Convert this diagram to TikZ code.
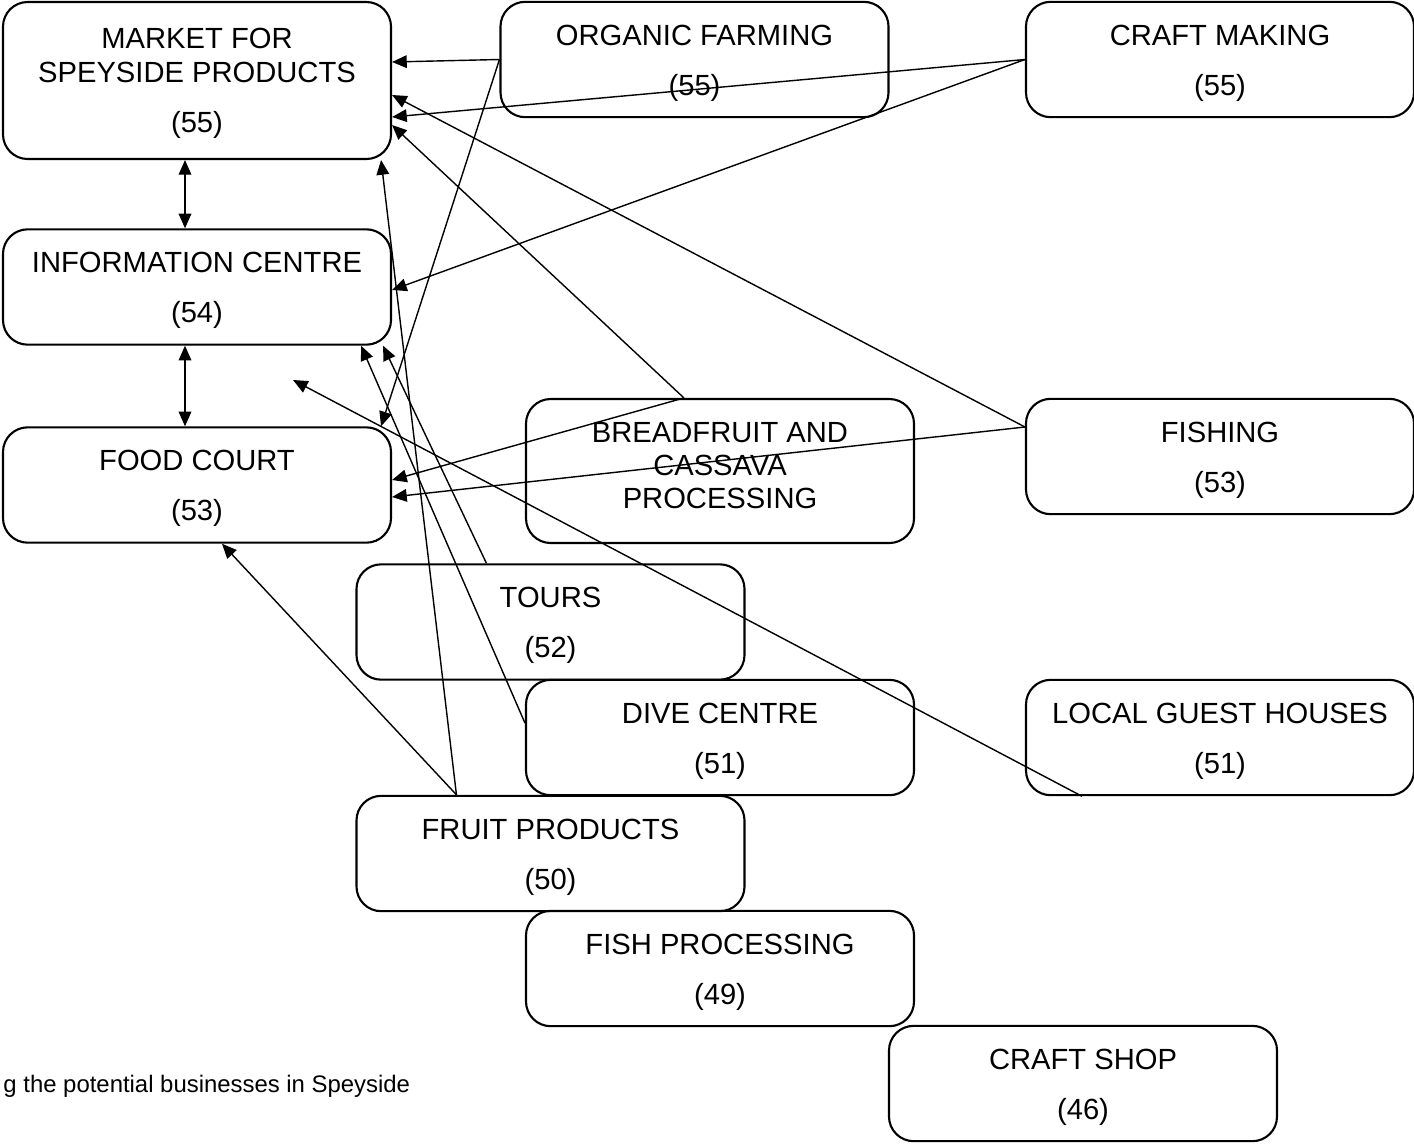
\documentclass[tikz,border=0pt]{standalone}
\usepackage{fontspec}
\setmainfont{Liberation Sans}
\usetikzlibrary{arrows.meta}

\newcommand{\capgap}[1][11.7pt]{\rule{0pt}{#1}}

\begin{document}
\begin{tikzpicture}[
    x=0.015cm, y=-0.015cm,
    bizbox/.style  = {draw, rounded corners=0.37cm, line width=0.9pt,
                      minimum width=5.82cm, minimum height=1.73cm,
                      align=center, inner sep=0pt,
                      font=\fontsize{12.45}{14.5}\selectfont},
    link/.style    = {-{Triangle[length=0.22cm,width=0.19cm]}, line width=0.6pt},
    twoway/.style  = {{Triangle[length=0.22cm,width=0.19cm]}-{Triangle[length=0.22cm,width=0.19cm]}, line width=0.6pt}
    ]
      \useasboundingbox (0,0) rectangle (1414,1143);

      % businesses -----------------------------------------------
      \node[bizbox, minimum height=2.355cm] (mkt) at (197,80.5)
            {\capgap[10.8pt]MARKET FOR\\SPEYSIDE PRODUCTS\\[6.8pt](55)};
      \node[bizbox] (org)   at (694.5,59.5) {\capgap ORGANIC FARMING\\[6.8pt](55)};
      \node[bizbox] (cft)   at (1220,59.5)  {\capgap CRAFT MAKING\\[6.8pt](55)};
      \node[bizbox] (info)  at (197,287)    {\capgap INFORMATION CENTRE\\[6.8pt](54)};
      \node[bizbox] (food)  at (197,485)    {\capgap FOOD COURT\\[6.8pt](53)};
      \node[bizbox, minimum height=2.16cm, font=\fontsize{12.45}{14}\selectfont] (bread) at (720,471)
            {BREADFRUIT AND\\CASSAVA\\PROCESSING\rule[-4.5pt]{0pt}{0pt}};
      \node[bizbox] (fish)  at (1220,456.5) {\capgap FISHING\\[6.8pt](53)};
      \node[bizbox] (tours) at (550.5,622)  {\capgap TOURS\\[6.8pt](52)};
      \node[bizbox] (dive)  at (720,737.5)  {\capgap DIVE CENTRE\\[6.8pt](51)};
      \node[bizbox] (guest) at (1220,737.5) {\capgap LOCAL GUEST HOUSES\\[6.8pt](51)};
      \node[bizbox] (fruit) at (550.5,853.5) {\capgap FRUIT PRODUCTS\\[6.8pt](50)};
      \node[bizbox] (fproc) at (720,968.5)  {\capgap FISH PROCESSING\\[6.8pt](49)};
      \node[bizbox] (cshop) at (1083,1083.5) {\capgap CRAFT SHOP\\[6.8pt](46)};

      \coordinate (infogap) at (293,380);

      \node[anchor=base west, inner sep=0pt, font=\fontsize{10.2}{12}\selectfont]
            (caption) at (3,1092) {g the potential businesses in Speyside};

      % links ----------------------------------------------------
      \draw[twoway] ([xshift=-0.18cm]mkt.south)  -- ([xshift=-0.18cm]info.north);
      \draw[twoway] ([xshift=-0.18cm]info.south) -- ([xshift=-0.18cm]food.north);

      \draw[link] (org.west) -- ([yshift=0.2775cm]mkt.east);
      \draw[link] (org.west) -- ([xshift=-0.165cm]food.north east);
      \draw[link] (cft.west) -- ([yshift=-0.5475cm]mkt.east);
      \draw[link] (cft.west) -- ([yshift=-0.045cm]info.east);
      \draw[link] ([yshift=0.4425cm]fish.west) -- ([yshift=-0.2175cm]mkt.east);
      \draw[link] ([yshift=0.4425cm]fish.west) -- ([yshift=-0.18cm]food.east);
      \draw[link] ([xshift=2.385cm]bread.north west) -- ([yshift=-0.6675cm]mkt.east);
      \draw[link] ([xshift=2.385cm]bread.north west) -- ([yshift=0.075cm]food.east);
      \draw[link] ([xshift=1.965cm]tours.north west) -- ([xshift=-0.135cm]info.south east);
      \draw[link] ([yshift=0.2175cm]dive.west) -- ([xshift=-0.465cm]info.south east);
      \draw[link] ([xshift=1.515cm]fruit.north west) -- ([xshift=-0.165cm]mkt.south east);
      \draw[link] ([xshift=1.515cm]fruit.north west) -- ([xshift=0.375cm]food.south);
      \draw[link] ([xshift=0.855cm]guest.south west) -- (infogap);
\end{tikzpicture}
\end{document}
